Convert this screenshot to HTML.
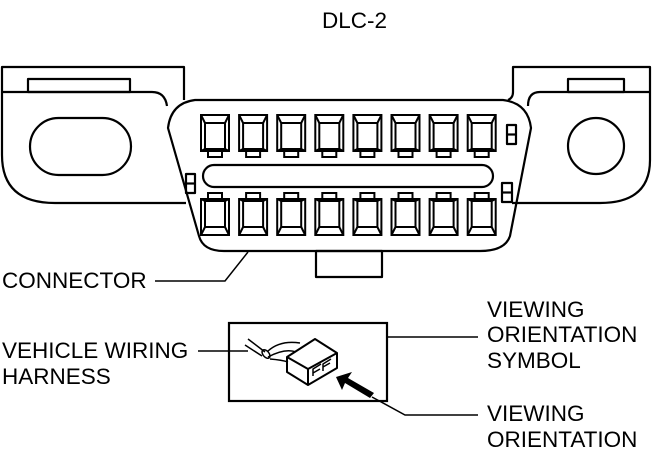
<!DOCTYPE html>
<html><head><meta charset="utf-8"><style>
html,body{margin:0;padding:0;background:#fff;}
svg{display:block;}
text{font-family:"Liberation Sans",Arial,sans-serif;font-size:22.5px;fill:#000;}
</style></head><body>
<svg width="655" height="456" viewBox="0 0 655 456" xmlns="http://www.w3.org/2000/svg">
<g fill="none" stroke="#000" stroke-width="2.2" stroke-linejoin="round">
<path d="M184,100 C184,97 184,95 184,93 L184,67 L2,67 L2,155 Q2,203 55,203 L186,203"/>
<path d="M2,92 L152,92 Q165,92 167,106"/>
<rect x="28" y="79" width="102" height="13"/>
<rect x="30" y="118" width="101" height="57" rx="28.5"/>
<path d="M508,100 Q513,98 513,92 L513,67 L650,67 L650,160 Q650,203 600,203 L512,203"/>
<path d="M650,92 L540,92 Q528,92 528,106"/>
<rect x="568" y="79" width="56" height="13"/>
<circle cx="596" cy="146" r="28"/>
<path d="M195,100 L503,100 Q528,103 531,128 L510,236 Q505,251 480,251 L224,251 Q203,251 199,236 L168,128 Q171,103 195,100 Z"/>
<rect x="316" y="251" width="66" height="26"/>
<rect x="203" y="165" width="290" height="22" rx="11"/>
<rect x="186" y="174" width="9" height="19"/><line x1="186" y1="183.5" x2="195" y2="183.5"/>
<rect x="507" y="125" width="9" height="19"/><line x1="507" y1="134.5" x2="516" y2="134.5"/>
<rect x="502" y="183" width="10" height="19"/><line x1="502" y1="192.5" x2="512" y2="192.5"/>
</g>
<g fill="none" stroke="#000" stroke-width="2">
<g id="tp">
<rect x="201" y="115" width="28" height="36"/>
<rect x="205" y="123" width="20" height="26"/>
<path d="M201,115 L205,123 M229,115 L225,123 M201,151 L205,149 M229,151 L225,149"/>
<rect x="208" y="151" width="14" height="6"/>
</g>
<use href="#tp" x="38.1"/><use href="#tp" x="76.2"/><use href="#tp" x="114.3"/><use href="#tp" x="152.4"/><use href="#tp" x="190.5"/><use href="#tp" x="228.6"/><use href="#tp" x="266.7"/>
<g id="bp">
<rect x="208" y="193" width="14" height="6"/>
<rect x="201" y="199" width="28" height="36"/>
<rect x="205" y="201" width="20" height="26"/>
<path d="M201,199 L205,201 M229,199 L225,201 M201,235 L205,227 M229,235 L225,227"/>
</g>
<use href="#bp" x="38.1"/><use href="#bp" x="76.2"/><use href="#bp" x="114.3"/><use href="#bp" x="152.4"/><use href="#bp" x="190.5"/><use href="#bp" x="228.6"/><use href="#bp" x="266.7"/>
</g>
<g fill="none" stroke="#000" stroke-width="1.5">
<path d="M155,281 L225,281 L248,252"/>
<path d="M198,351 L248,351"/>
<path d="M387,337 L478,337"/>
<path d="M372,397 L405,415 L478,415"/>
</g>
<rect x="229" y="323" width="158" height="78" fill="none" stroke="#000" stroke-width="2.2"/>
<g fill="none" stroke="#000" stroke-width="1.5" stroke-linejoin="round">
<path d="M248,339 L265,352 M245,345 L262,356"/>
<ellipse cx="266" cy="354" rx="3" ry="5" transform="rotate(-40 266 354)"/>
<path d="M268,351 Q280,340 300,343 M268,357 Q285,348 296,352 M270,359 Q282,360 288,362"/>
<path d="M287,357 L315,339 L337,353 L308,369 Z" fill="#fff" stroke-width="2"/>
<path d="M287,357 L287,372 L308,385 L337,368 L337,353 M308,369 L308,385" stroke-width="2"/>
<path d="M313,376 L313,369 L321,364 M313,373 L320,369 M323,371 L323,364 L331,359 M323,367 L330,363"/>
</g>
<path d="M336,377 L352,372 L348,378 L374,393 L370,398 L345,383 L342,390 Z" fill="#000"/>
<text x="322" y="28">DLC-2</text>
<text x="2" y="288">CONNECTOR</text>
<text x="2" y="358">VEHICLE WIRING</text>
<text x="2" y="384">HARNESS</text>
<text x="487" y="317">VIEWING</text>
<text x="487" y="342">ORIENTATION</text>
<text x="487" y="368">SYMBOL</text>
<text x="487" y="421">VIEWING</text>
<text x="487" y="447">ORIENTATION</text>
</svg>
</body></html>
